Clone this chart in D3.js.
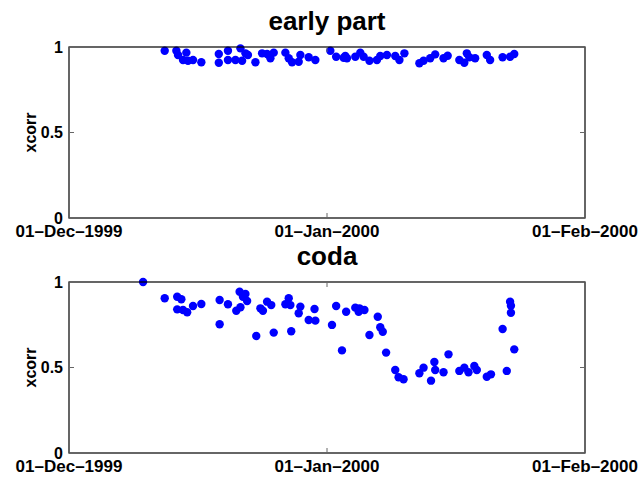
<!DOCTYPE html>
<html>
<head>
    <meta charset="utf-8"/>
    <script src="https://d3js.org/d3.v7.min.js"></script>
    <style>
        body { margin: 0; background: #fff; }
        svg text { font-family: "Liberation Sans", Arial, sans-serif; font-weight: bold; }
    </style>
</head>
<body>
<svg id="chart" width="644" height="477"></svg>
<script>
// days since 01-Dec-1999
var earlyDay = [11.5, 12.9, 13.1, 14.1, 13.7, 14.3, 14.9, 15.9, 18.0, 18.0, 19.1, 19.1, 20.0, 20.6, 20.8, 21.2, 21.5, 22.4,
    23.2, 23.8, 24.2, 24.6, 26.0, 26.4, 26.8, 27.8, 27.6, 28.8, 29.6, 31.4, 32.1, 33.2, 33.0, 33.4, 34.4, 35.0, 35.4, 36.1,
    37.0, 37.4, 38.2, 39.2, 39.7, 40.3, 42.1, 42.6, 43.4, 44.0, 45.0, 45.5, 46.9, 47.5, 47.8, 48.1, 48.8, 50.2, 50.6, 52.1,
    53.0, 53.5];
var earlyCorr = [0.978, 0.978, 0.953, 0.967, 0.924, 0.920, 0.924, 0.911, 0.959, 0.908, 0.978, 0.924, 0.924, 0.992, 0.920,
    0.963, 0.953, 0.911, 0.963, 0.959, 0.934, 0.967, 0.967, 0.934, 0.911, 0.953, 0.914, 0.940, 0.924, 0.978, 0.943, 0.947,
    0.937, 0.934, 0.943, 0.967, 0.943, 0.920, 0.924, 0.947, 0.953, 0.947, 0.924, 0.963, 0.905, 0.920, 0.934, 0.957, 0.934,
    0.949, 0.924, 0.908, 0.963, 0.940, 0.934, 0.953, 0.924, 0.940, 0.943, 0.959];

var codaDay = [8.9, 11.5, 13.0, 13.5, 13.0, 13.7, 14.2, 14.9, 15.9, 18.1, 18.1, 19.1, 20.1, 20.6, 20.5, 21.2, 20.9, 21.4,
    22.5, 23.0, 23.3, 23.8, 24.3, 24.6, 26.0, 26.4, 26.6, 26.7, 27.8, 27.6, 28.8, 29.5, 29.6, 31.6, 32.1, 32.8, 33.3, 34.4,
    34.8, 34.9, 35.5, 36.1, 37.1, 37.4, 37.7, 38.1, 39.2, 39.6, 40.2, 42.1, 42.6, 43.5, 43.9, 44.0, 45.0, 45.6, 46.9, 47.5,
    48.0, 48.7, 49.0, 50.2, 50.7, 52.1, 52.6, 53.0, 53.1, 53.1, 53.5];
var codaCorr = [1.0, 0.905, 0.914, 0.899, 0.840, 0.836, 0.823, 0.860, 0.871, 0.895, 0.753, 0.870, 0.832, 0.852, 0.943,
    0.930, 0.914, 0.889, 0.684, 0.846, 0.832, 0.885, 0.865, 0.704, 0.870, 0.905, 0.865, 0.712, 0.856, 0.817, 0.778, 0.842,
    0.774, 0.749, 0.860, 0.600, 0.826, 0.850, 0.826, 0.846, 0.836, 0.690, 0.797, 0.735, 0.709, 0.587, 0.485, 0.443, 0.431,
    0.466, 0.499, 0.423, 0.532, 0.485, 0.472, 0.577, 0.480, 0.499, 0.472, 0.509, 0.485, 0.446, 0.460, 0.725, 0.480, 0.885,
    0.861, 0.820, 0.606];

var xTicks = ["01-Dec-1999", "01-Jan-2000", "01-Feb-2000"];
var yTicks = [0, 0.5, 1];

var svg = d3.select("#chart");
var start = new Date(Date.UTC(1999, 11, 1));
var dayMs = 864e5;
var fmt = d3.utcFormat("%d-%b-%Y");
var parse = d3.utcParse("%d-%b-%Y");

function panel(top, title, days, corr) {
    var x = d3.scaleUtc().domain([parse(xTicks[0]), parse(xTicks[2])]).range([69, 585]);
    var y = d3.scaleLinear().domain([0, 1]).range([top + 171, top]);
    var g = svg.append("g");

    // dots
    g.selectAll("circle").data(days).enter().append("circle")
        .attr("cx", function(d) { return x(new Date(start.getTime() + d * dayMs)); })
        .attr("cy", function(d, i) { return y(corr[i]); })
        .attr("r", 4.2)
        .attr("fill", "#0000ff");

    // box
    g.append("rect").attr("x", 69).attr("y", top).attr("width", 516).attr("height", 171)
        .attr("fill", "none").attr("stroke", "#000").attr("stroke-width", 1.2);

    // ticks pointing in
    var xt = xTicks.map(function(t) { return parse(t); });
    g.selectAll("line.xt").data(xt).enter().append("line").attr("class", "xt")
        .attr("x1", function(d) { return x(d); }).attr("x2", function(d) { return x(d); })
        .attr("y1", top + 171).attr("y2", top + 166).attr("stroke", "#666");
    g.selectAll("line.xt2").data(xt).enter().append("line").attr("class", "xt2")
        .attr("x1", function(d) { return x(d); }).attr("x2", function(d) { return x(d); })
        .attr("y1", top).attr("y2", top + 5).attr("stroke", "#666");
    g.selectAll("line.yt").data(yTicks).enter().append("line").attr("class", "yt")
        .attr("x1", 69).attr("x2", 74).attr("y1", function(d) { return y(d); }).attr("y2", function(d) { return y(d); })
        .attr("stroke", "#666");
    g.selectAll("line.yt2").data(yTicks).enter().append("line").attr("class", "yt2")
        .attr("x1", 585).attr("x2", 580).attr("y1", function(d) { return y(d); }).attr("y2", function(d) { return y(d); })
        .attr("stroke", "#666");

    // labels
    g.selectAll("text.xl").data(xt).enter().append("text").attr("class", "xl")
        .attr("x", function(d) { return x(d); }).attr("y", top + 190)
        .attr("text-anchor", "middle").attr("font-size", 17)
        .text(function(d) { return fmt(d).replace(/-/g, "\u2013"); });
    g.selectAll("text.yl").data(yTicks).enter().append("text").attr("class", "yl")
        .attr("x", 63).attr("y", function(d) { return y(d) + 5.5; })
        .attr("text-anchor", "end").attr("font-size", 16)
        .text(function(d) { return d; });

    g.append("text").attr("transform", "translate(36," + (top + 85.5) + ") rotate(-90)")
        .attr("text-anchor", "middle").attr("font-size", 16).text("xcorr");
    g.append("text").attr("x", 327).attr("y", top - 17)
        .attr("text-anchor", "middle").attr("font-size", 26).text(title);
}

panel(47, "early part", earlyDay, earlyCorr);
panel(282, "coda", codaDay, codaCorr);
</script>
</body>
</html>
